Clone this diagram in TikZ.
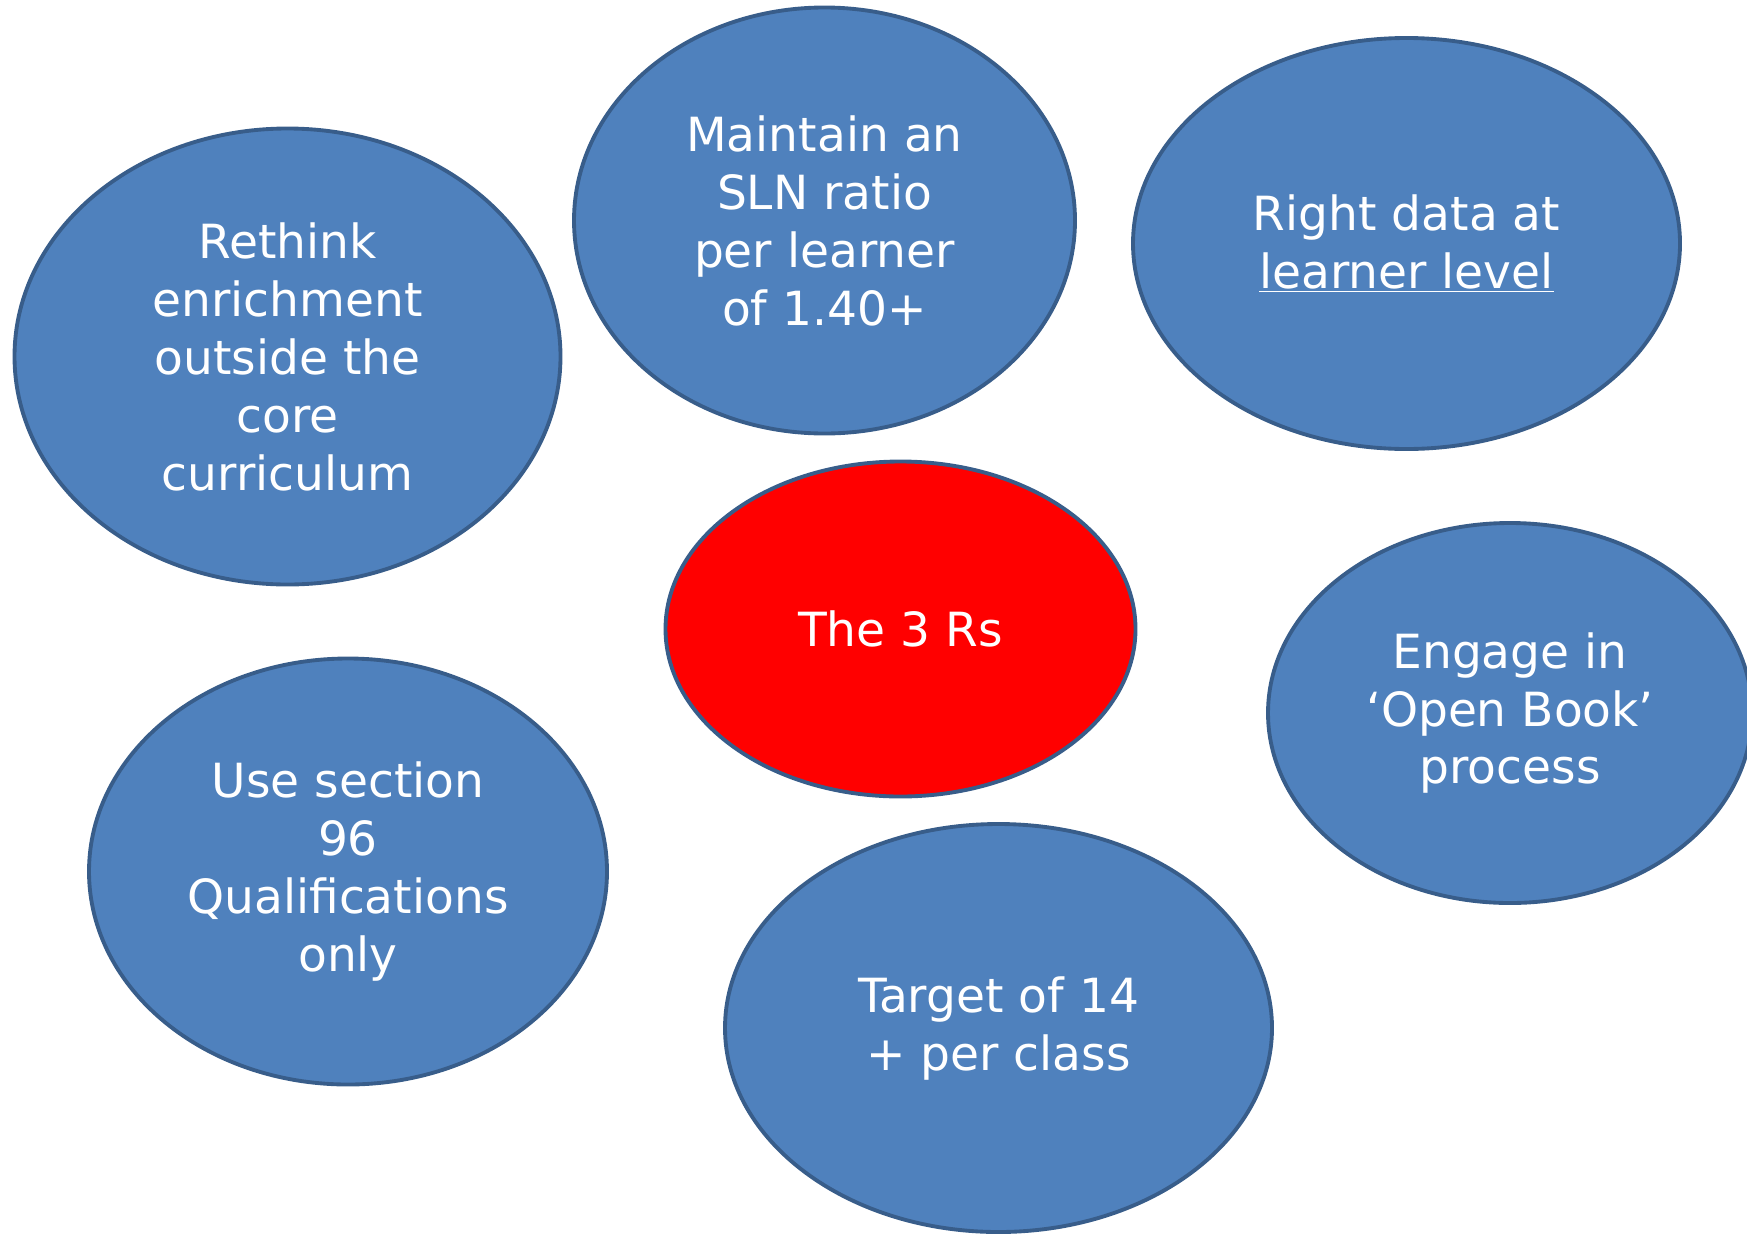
\documentclass[tikz,border=0pt]{standalone}
\usepackage{fontspec}
\setmainfont{DejaVu Sans}
\usepackage{tikz}
\usetikzlibrary{shapes.geometric}
\definecolor{bubble_blue}{RGB}{79,129,189}
\definecolor{edge_blue}{RGB}{56,93,138}
\definecolor{bubble_red}{RGB}{255,0,0}

\begin{document}
\begin{tikzpicture}[scale=1.0]
    \tikzstyle{label}=[text=white]
    \tikzstyle{bubble}=[draw=edge_blue, line width=2.2pt, ellipse, inner sep=0pt, fill=bubble_blue, text=white, align=center, font=\fontsize{26.8}{33}\selectfont]
    \tikzstyle{bubblered}=[style=bubble, fill=bubble_red]

    \useasboundingbox (0,0) rectangle (34.94,-24.68);

    \node[bubble, minimum width=10.92cm, minimum height=9.12cm] (rethink) at (5.75,-7.13)  {Rethink\\enrichment\\outside the\\core\\curriculum};
    \node[bubble, minimum width=10.02cm, minimum height=8.52cm] (sln)     at (16.49,-4.41) {Maintain an\\SLN ratio\\per learner\\of 1.40+};
    \node[bubble, minimum width=10.94cm, minimum height=8.22cm] (data)    at (28.13,-4.87) {Right data at\\\underline{learner level}};
    \node[bubblered, minimum width=9.40cm, minimum height=6.70cm] (rs)  at (18.01,-12.58) {The 3 Rs};
    \node[bubble, minimum width=9.68cm, minimum height=7.60cm] (book)    at (30.20,-14.26) {Engage in\\‘Open Book’\\process};
    \node[bubble, minimum width=10.36cm, minimum height=8.52cm] (quals)  at (6.96,-17.43) {Use section\\96\\Qualifications\\only};
    \node[bubble, minimum width=10.94cm, minimum height=8.16cm] (target) at (19.97,-20.56) {Target of 14\\+ per class};
  \end{tikzpicture}
\end{document}
